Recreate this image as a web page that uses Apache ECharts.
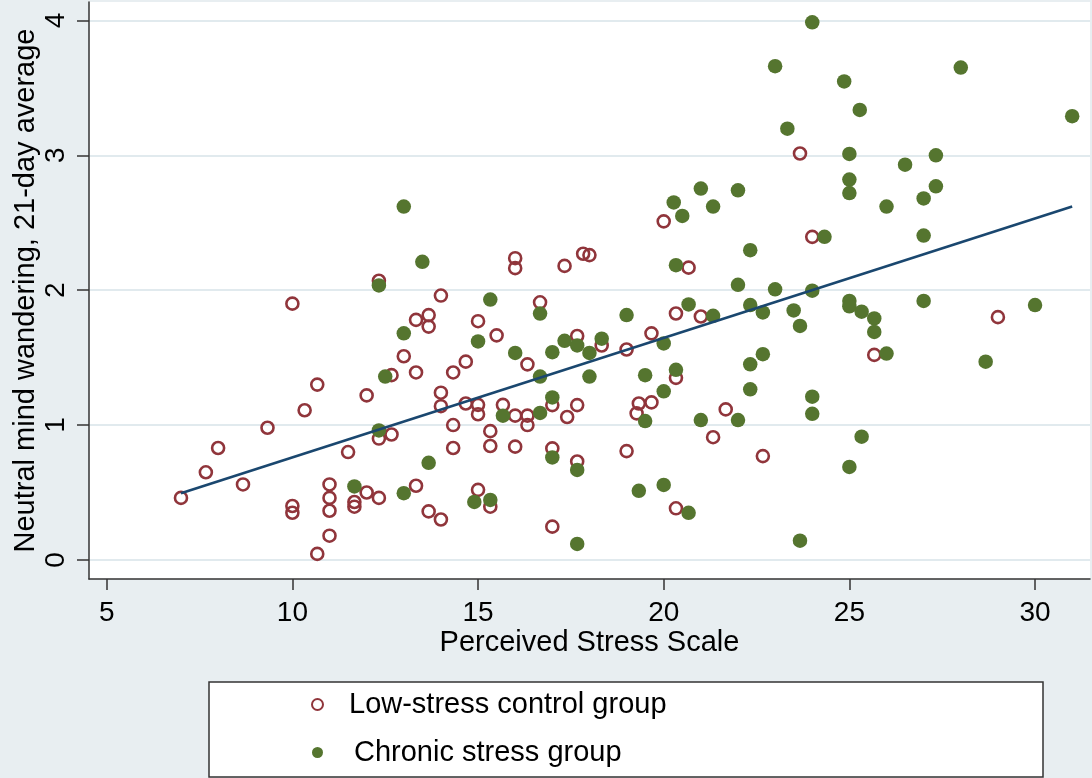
<!DOCTYPE html>
<html>
<head>
<meta charset="utf-8">
<script src="https://cdn.jsdelivr.net/npm/echarts@6/dist/echarts.min.js"></script>
<style>
html,body{margin:0;padding:0;background:#e8eef1;}
#chart{width:1092px;height:778px;}
</style>
</head>
<body>
<div id="chart"></div>
<script>
// ---- data ----
const xTicks = [5, 10, 15, 20, 25, 30];
const yTicks = [0, 1, 2, 3, 4];
const seriesNames = ['Low-stress control group', 'Chronic stress group'];
const xTitle = 'Perceived Stress Scale';
const yTitle = 'Neutral mind wandering, 21-day average';

const controlPoints = [
  [7, 0.46], [7.67, 0.65], [8, 0.83], [8.67, 0.56], [9.33, 0.98],
  [10, 1.90], [10, 0.40], [10, 0.35], [10.33, 1.11], [10.67, 1.30], [10.67, 0.045],
  [11, 0.56], [11, 0.46], [11, 0.365], [11, 0.18], [11.5, 0.80], [11.67, 0.43], [11.67, 0.395],
  [12, 1.22], [12, 0.50], [12.33, 2.07], [12.33, 0.90], [12.33, 0.46], [12.67, 1.37], [12.67, 0.93],
  [13, 1.51], [13.33, 1.78], [13.33, 1.39], [13.33, 0.55], [13.67, 1.73], [13.67, 1.815], [13.67, 0.36],
  [14, 1.96], [14, 1.24], [14, 1.14], [14, 0.30], [14.33, 1.39], [14.33, 1.0], [14.33, 0.83],
  [14.67, 1.47], [14.67, 1.16], [15, 1.77], [15, 1.15], [15, 1.08], [15, 0.52],
  [15.33, 0.955], [15.33, 0.845], [15.33, 0.395], [15.5, 1.665], [15.67, 1.15],
  [16, 2.237], [16, 2.163], [16, 1.07], [16, 0.84], [16.33, 1.45], [16.33, 1.07], [16.33, 1.0],
  [16.67, 1.91], [17, 1.148], [17, 0.827], [17, 0.247], [17.33, 2.18], [17.4, 1.06],
  [17.67, 1.66], [17.67, 1.148], [17.67, 0.73], [17.83, 2.27], [18, 2.26], [18.33, 1.59],
  [19, 1.56], [19, 0.807], [19.27, 1.087], [19.33, 1.16], [19.67, 1.68], [19.67, 1.168],
  [20, 2.51], [20.33, 1.827], [20.33, 1.35], [20.33, 0.383], [20.67, 2.167], [21, 1.805],
  [21.33, 0.91], [21.67, 1.116], [22.67, 0.77], [23.67, 3.013], [24, 2.395], [25.67, 1.52], [29, 1.80]
];

const chronicPoints = [
  [11.67, 0.545], [12.33, 2.035], [12.33, 0.96], [12.5, 1.36], [13, 2.62], [13, 1.68], [13, 0.495],
  [13.5, 2.21], [13.67, 0.72], [14.9, 0.43], [15, 1.62], [15.33, 1.93], [15.33, 0.445], [15.67, 1.07],
  [16, 1.535], [16.67, 1.827], [16.67, 1.36], [16.67, 1.09], [17, 1.54], [17, 1.205], [17, 0.76],
  [17.33, 1.625], [17.67, 1.59], [17.67, 0.667], [17.67, 0.119], [18, 1.535], [18, 1.36], [18.33, 1.64],
  [19, 1.815], [19.33, 0.513], [19.5, 1.37], [19.5, 1.03], [20, 1.605], [20, 1.25], [20, 0.556],
  [20.27, 2.65], [20.33, 2.185], [20.33, 1.41], [20.5, 2.55], [20.67, 1.894], [20.67, 0.35],
  [21, 2.753], [21, 1.037], [21.33, 2.62], [21.33, 1.81], [22, 2.74], [22, 2.04], [22, 1.037],
  [22.33, 2.296], [22.33, 1.89], [22.33, 1.45], [22.33, 1.265], [22.67, 1.835], [22.67, 1.525],
  [23, 3.66], [23, 2.006], [23.33, 3.197], [23.5, 1.85], [23.67, 1.735], [23.67, 0.143],
  [24, 3.985], [24, 1.996], [24, 1.21], [24, 1.083], [24.33, 2.395], [24.86, 3.547],
  [25, 3.01], [25, 2.82], [25, 2.72], [25, 1.92], [25, 1.88], [25, 0.69], [25.28, 3.336],
  [25.33, 1.84], [25.33, 0.914], [25.67, 1.79], [25.67, 1.69], [26, 2.62], [26, 1.53], [26.5, 2.93],
  [27, 2.68], [27, 2.405], [27, 1.92], [27.33, 3.0], [27.33, 2.77], [28, 3.65], [28.67, 1.47],
  [30, 1.89], [31, 3.29]
];

// fitted line end points
const fitLine = [[7, 0.494], [31, 2.62]];

// ---- styles ----
const FONT = 'Liberation Sans, Arial, Helvetica, sans-serif';
const RED = '#90353b';
const GREEN = '#55752f';
const NAVY = '#1a476f';
const AXIS = '#333333';
const TICK_FONT = 28;

const chart = echarts.init(document.getElementById('chart'), null, {renderer: 'canvas'});

chart.setOption({
  backgroundColor: '#e8eef1',
  animation: false,
  textStyle: {fontFamily: FONT},
  grid: {
    left: 89, right: 2, top: 2, bottom: 199,
    show: true, backgroundColor: '#ffffff', borderWidth: 0,
    containLabel: false,
    outerBoundsMode: 'none'
  },
  xAxis: {
    type: 'value',
    min: 4.523, max: 31.48,
    name: xTitle,
    nameLocation: 'middle',
    nameGap: 49,
    nameMoveOverlap: false,
    nameTextStyle: {fontSize: 29, color: '#000', fontFamily: FONT},
    axisLine: {show: true, onZero: false, lineStyle: {color: AXIS, width: 1.5}},
    axisTick: {show: true, length: 11, customValues: xTicks, lineStyle: {color: AXIS, width: 1.5}},
    axisLabel: {
      show: true, customValues: xTicks, margin: 20,
      fontSize: TICK_FONT, color: '#000', fontFamily: FONT
    },
    splitLine: {show: false}
  },
  yAxis: {
    type: 'value',
    min: -0.141, max: 4.136,
    name: yTitle,
    nameLocation: 'middle',
    nameGap: 49,
    nameRotate: 90,
    nameMoveOverlap: false,
    nameTextStyle: {fontSize: 29, color: '#000', fontFamily: FONT},
    axisLine: {show: true, onZero: false, lineStyle: {color: AXIS, width: 1.5}},
    axisTick: {show: true, length: 12, customValues: yTicks, lineStyle: {color: AXIS, width: 1.5}},
    axisLabel: {
      show: true, customValues: yTicks, rotate: 90, margin: 19,
      fontSize: TICK_FONT, color: '#000', fontFamily: FONT
    },
    splitLine: {show: true, lineStyle: {color: '#e1eaee', width: 2}}
  },
  legend: {
    orient: 'vertical',
    left: 311,
    top: 690,
    itemWidth: 11,
    itemHeight: 11,
    itemGap: 19,
    padding: 0,
    z: 10,
    selectedMode: false,
    textStyle: {fontSize: 29, color: '#000', fontFamily: FONT},
    data: [
      {name: seriesNames[0], icon: 'circle',
       itemStyle: {color: '#ffffff', borderColor: RED, borderWidth: 2},
       textStyle: {padding: [0, 0, 0, 21]}},
      {name: seriesNames[1], icon: 'circle',
       itemStyle: {color: GREEN, borderWidth: 0},
       textStyle: {padding: [0, 0, 0, 26]}}
    ]
  },
  graphic: [{
    type: 'rect',
    z: 1,
    shape: {x: 209, y: 682, width: 834, height: 95},
    style: {fill: '#ffffff', stroke: AXIS, lineWidth: 1.5}
  }],
  series: [
    {
      name: seriesNames[0],
      type: 'scatter',
      symbol: 'circle',
      symbolSize: 12,
      data: controlPoints,
      itemStyle: {color: 'rgba(255,255,255,0)', borderColor: RED, borderWidth: 2.6, opacity: 1},
      z: 2
    },
    {
      name: seriesNames[1],
      type: 'scatter',
      symbol: 'circle',
      symbolSize: 14.5,
      data: chronicPoints,
      itemStyle: {color: GREEN, borderWidth: 0, opacity: 1},
      z: 3
    },
    {
      name: 'fit',
      type: 'line',
      data: fitLine,
      symbol: 'none',
      lineStyle: {color: NAVY, width: 2.6},
      z: 4,
      silent: true
    }
  ]
});
</script>
</body>
</html>
